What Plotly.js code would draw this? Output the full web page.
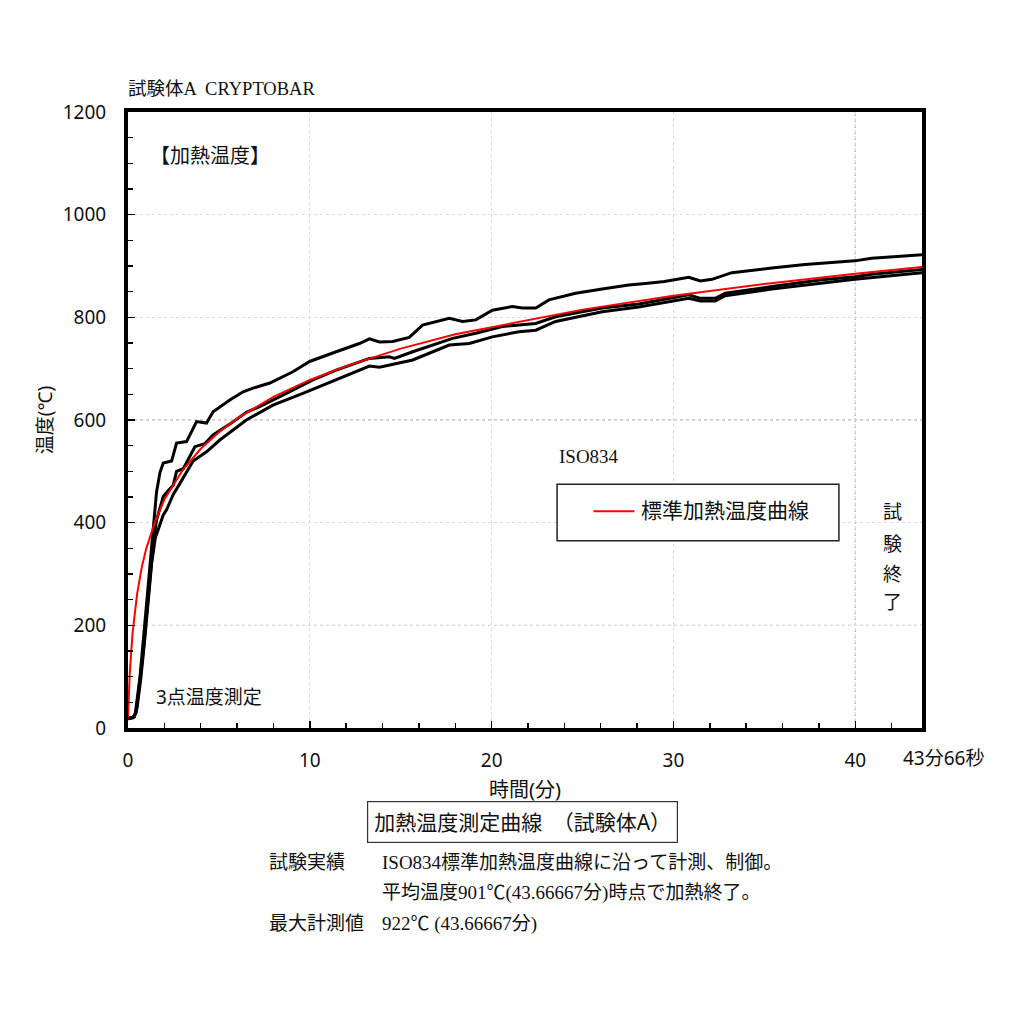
<!DOCTYPE html>
<html>
<head>
<meta charset="utf-8">
<script src="https://cdn.plot.ly/plotly-3.0.1.min.js"></script>
<style>html,body{margin:0;padding:0;background:#fff;}#chart{width:1024px;height:1024px;}</style>
</head>
<body>
<div id="chart"></div>
<script>
// ---- data ----
const isoTime = [0, 0.05, 0.1, 0.25, 0.5, 0.75, 1, 1.5, 2, 3, 4, 5, 6, 8, 10, 12, 15, 18, 20, 25, 30, 35, 40, 43.67];
const isoTemp = [20, 70, 108, 185, 261, 312, 349, 403, 445, 502, 544, 576, 603, 645, 678, 705, 739, 767, 781, 815, 842, 865, 885, 898];

const topTime = [0, 0.25, 0.4, 0.66, 0.84, 1.02, 1.21, 1.39, 1.57, 1.76, 1.94, 2.4, 2.67, 3.22, 3.77, 4.32, 4.68, 5.6, 6.33, 6.88, 7.8, 9.07, 9.99, 11.45, 12.73, 13.28, 13.83, 14.56, 15.47, 16.2, 17.67, 18.4, 19.13, 20.04, 21.14, 21.69, 22.43, 23.15, 24.62, 26.08, 27.54, 28.46, 29.5, 30.84, 31.48, 32.12, 33.21, 35.41, 37.24, 39.98, 40.9, 42.5, 43.67];
const topTemp = [20, 20, 28, 100, 170, 240, 320, 390, 460, 498, 516, 520, 555, 558, 597, 594, 616, 639, 655, 662, 672, 694, 714, 733, 749, 758, 752, 753, 761, 785, 798, 792, 795, 814, 821, 818, 818, 834, 847, 855, 863, 866, 870, 878, 871, 874, 887, 896, 903, 910, 915, 919, 922];

const midTime = [0, 0.3, 0.45, 0.66, 0.84, 1.02, 1.21, 1.39, 1.57, 1.94, 2.2, 2.49, 2.67, 3.04, 3.68, 4.23, 4.68, 5.6, 6.51, 7.24, 8.71, 10.17, 11.45, 12.73, 13.28, 14.38, 14.65, 15.66, 17.85, 19.13, 20.59, 22.42, 23.52, 26.08, 28.09, 30.84, 31.48, 32.3, 32.85, 35.41, 38.15, 39.98, 40.9, 43.67];
const midTemp = [18, 20, 30, 90, 150, 220, 295, 360, 405, 451, 462, 473, 500, 505, 548, 554, 571, 592, 615, 626, 652, 678, 697, 714, 720, 723, 720, 733, 759, 769, 782, 788, 801, 818, 826, 844, 837, 837, 847, 860, 873, 879, 884, 893];

const lowTime = [0, 0.35, 0.5, 0.7, 0.9, 1.1, 1.3, 1.5, 1.66, 1.94, 2.12, 2.49, 2.85, 3.58, 4.32, 5.05, 6.51, 7.97, 9.62, 11.45, 12.73, 13.28, 13.83, 15.66, 17.67, 18.77, 20.04, 21.51, 22.43, 23.52, 26.08, 28.09, 30.84, 31.48, 32.3, 32.85, 35.41, 38.15, 39.98, 43.67];
const lowTemp = [18, 22, 40, 95, 165, 240, 320, 370, 386, 415, 425, 455, 476, 520, 538, 561, 600, 629, 652, 678, 697, 705, 703, 717, 746, 749, 762, 772, 775, 792, 811, 820, 837, 832, 832, 842, 855, 866, 874, 887];

const xTicks = [0, 10, 20, 30, 40];
const yTicks = [0, 200, 400, 600, 800, 1000, 1200];
const xEnd = 43.67;
const endLabel = "43分66秒";
const legendName = "標準加熱温度曲線";
const legendTitle = "ISO834";
const chartTitle = "試験体A  CRYPTOBAR";
const innerLabel = "【加熱温度】";
const pointsLabel = "3点温度測定";
const endText = ["試", "験", "終", "了"];
const boxTitle = "加熱温度測定曲線　（試験体A）";
const noteRows = [
  ["試験実績", "ISO834標準加熱温度曲線に沿って計測、制御。"],
  ["", "平均温度901℃(43.66667分)時点で加熱終了。"],
  ["最大計測値", "922℃ (43.66667分)"]
];

// ---- chart ----
const mincho = "Liberation Serif, Noto Sans CJK JP, serif";
const gothic = "Noto Sans, Noto Sans CJK JP, sans-serif";
const blackLine = {color: "#000", width: 3};

const traces = [
  {x: lowTime, y: lowTemp, mode: "lines", line: blackLine, showlegend: false, hoverinfo: "skip"},
  {x: midTime, y: midTemp, mode: "lines", line: blackLine, showlegend: false, hoverinfo: "skip"},
  {x: topTime, y: topTemp, mode: "lines", line: blackLine, showlegend: false, hoverinfo: "skip"},
  {x: isoTime, y: isoTemp, mode: "lines", name: legendName, line: {color: "#ff0000", width: 2}, showlegend: false}
];

const annotations = [
  {xref: "paper", yref: "paper", x: -0.002, y: 1.018, xanchor: "left", yanchor: "bottom", text: chartTitle, showarrow: false, font: {family: mincho, size: 18.5, color: "#111"}},
  {xref: "x", yref: "y", x: 1.1, y: 1115, xanchor: "left", yanchor: "middle", text: innerLabel, showarrow: false, font: {family: mincho, size: 20, color: "#111"}},
  {xref: "x", yref: "y", x: 1.45, y: 60, xanchor: "left", yanchor: "middle", text: pointsLabel, showarrow: false, font: {family: gothic, size: 19, color: "#111"}},
  {xref: "paper", yref: "paper", x: 0.973, y: -0.048, xanchor: "left", yanchor: "middle", text: endLabel, showarrow: false, font: {family: gothic, size: 19, color: "#111"}},
  {xref: "x", yref: "y", x: 23.6, y: 505, xanchor: "left", yanchor: "bottom", text: legendTitle, showarrow: false, font: {family: mincho, size: 19, color: "#111"}},
  {xref: "x", yref: "y", x: 28.1, y: 422, xanchor: "left", yanchor: "middle", text: legendName, showarrow: false, font: {family: mincho, size: 21, color: "#111"}}
];
const charY = [420, 358, 300, 245];
endText.forEach((c, i) => annotations.push({xref: "x", yref: "y", x: 42.05, y: charY[i], xanchor: "center", yanchor: "middle", text: c, showarrow: false, font: {family: mincho, size: 19, color: "#111"}}));
annotations.push({xref: "paper", yref: "paper", x: 0.497, y: -0.152, xanchor: "center", yanchor: "middle", text: boxTitle, showarrow: false,
  font: {family: gothic, size: 21, color: "#111"}, bordercolor: "#333", borderwidth: 1.2, borderpad: 6, bgcolor: "#fff"});
const rowY = [-0.218, -0.268, -0.318];
noteRows.forEach((r, i) => {
  if (r[0]) annotations.push({xref: "paper", yref: "paper", x: 0.175, y: rowY[i], xanchor: "left", yanchor: "middle", text: r[0], showarrow: false, font: {family: mincho, size: 19, color: "#111"}});
  annotations.push({xref: "paper", yref: "paper", x: 0.318, y: rowY[i], xanchor: "left", yanchor: "middle", text: r[1], showarrow: false, font: {family: mincho, size: 19, color: "#111"}});
});

const shapes = [
  // darker dashed grid lines
  {type: "line", xref: "paper", yref: "y", x0: 0, x1: 1, y0: 200, y1: 200, line: {color: "#999", width: 1, dash: "3px,3px"}, layer: "below"},
  {type: "line", xref: "paper", yref: "y", x0: 0, x1: 1, y0: 600, y1: 600, line: {color: "#999", width: 1, dash: "3px,3px"}, layer: "below"},
  {type: "line", xref: "x", yref: "paper", x0: 40, x1: 40, y0: 0, y1: 1, line: {color: "#999", width: 1, dash: "3px,3px"}, layer: "below"},
  // legend box
  {type: "rect", xref: "x", yref: "y", x0: 23.6, x1: 39.1, y0: 365, y1: 475, line: {color: "#222", width: 1.5}, fillcolor: "#fff"},
  {type: "line", xref: "x", yref: "y", x0: 25.6, x1: 27.85, y0: 422, y1: 422, line: {color: "#ff0000", width: 2}}
];

const layout = {
  width: 1024, height: 1024,
  margin: {l: 128, r: 102, t: 112, b: 296, pad: 0},
  paper_bgcolor: "#fff", plot_bgcolor: "#fff",
  showlegend: false,
  font: {family: gothic, color: "#111"},
  xaxis: {
    range: [0, xEnd], tickvals: xTicks, ticks: "inside", ticklen: 7, tickwidth: 1.5, tickcolor: "#000",
    minor: {dtick: 2, ticks: "inside", ticklen: 5, tickcolor: "#000", showgrid: false},
    showgrid: true, gridcolor: "#dcdcdc", griddash: "3px,3px", gridwidth: 1,
    showline: true, linecolor: "#000", linewidth: 4, mirror: true, zeroline: false,
    tickfont: {family: gothic, size: 19, color: "#111"}, ticklabelstandoff: 12,
    title: {text: "時間(分)", font: {family: gothic, size: 20, color: "#111"}, standoff: 12}
  },
  yaxis: {
    range: [0, 1200], tickvals: yTicks, ticks: "inside", ticklen: 7, tickwidth: 1.5, tickcolor: "#000",
    minor: {dtick: 50, ticks: "inside", ticklen: 5, tickcolor: "#000", showgrid: false},
    showgrid: true, gridcolor: "#dcdcdc", griddash: "3px,3px", gridwidth: 1,
    showline: true, linecolor: "#000", linewidth: 4, mirror: true, zeroline: false,
    tickfont: {family: gothic, size: 19, color: "#111"}, ticklabelstandoff: 14,
    title: {text: "温度(℃)", font: {family: gothic, size: 19, color: "#111"}, standoff: 6}
  },
  annotations: annotations,
  shapes: shapes
};

Plotly.newPlot("chart", traces, layout, {displayModeBar: false, staticPlot: true});
</script>
</body>
</html>
